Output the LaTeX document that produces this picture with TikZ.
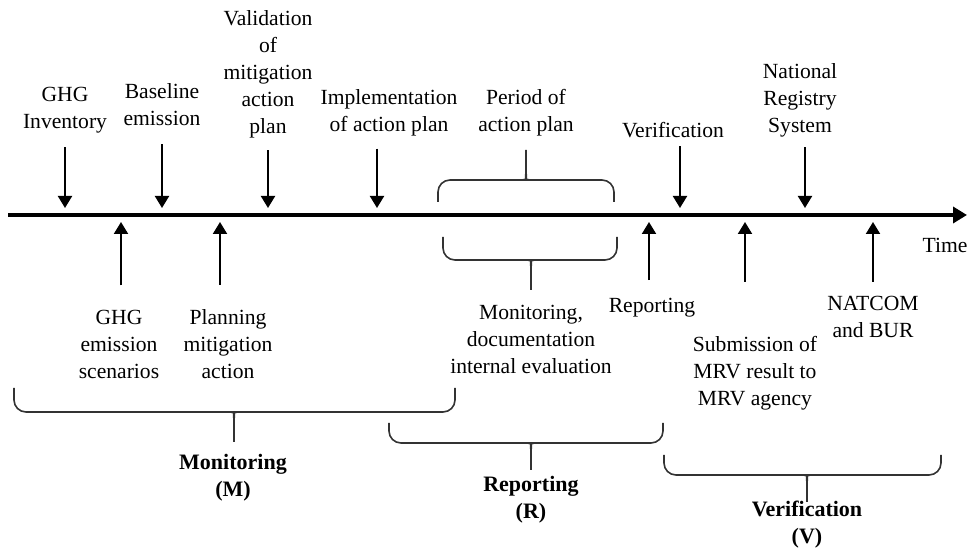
\documentclass[tikz,border=0pt]{standalone}
\usepackage{fontspec}
\setmainfont{Liberation Serif}
\usetikzlibrary{arrows.meta}

\begin{document}
\begin{tikzpicture}[x=0.5pt,y=-0.5pt,
  lbl/.style={align=center,inner sep=0pt,font=\fontsize{10.8}{13.5}\selectfont},
  phase/.style={align=center,inner sep=0pt,font=\fontsize{11}{13.5}\selectfont\bfseries},
  evt/.style={line width=1pt,-{Triangle[length=6pt,width=7pt]}},
  brc/.style={line width=0.8pt,draw=black!80}]
\useasboundingbox (0,0) rectangle (971,549);
%time axis
\coordinate (t0) at (8,215);
\coordinate (t1) at (967,215);
\draw[line width=2pt,-{Triangle[length=7pt,width=8pt]}] (t0) -- (t1);
\node[lbl] (time) at (945,245) {Time};
%points on the axis
\coordinate (a1) at (65,208);
\coordinate (a2) at (162,208);
\coordinate (a3) at (268,208);
\coordinate (a4) at (377,208);
\coordinate (a5) at (680,208);
\coordinate (a6) at (805,208);
\coordinate (b1) at (121,222);
\coordinate (b2) at (220,222);
\coordinate (b3) at (649,222);
\coordinate (b4) at (745,222);
\coordinate (b5) at (873,222);
%above the axis
\node[lbl] (inv) at (65,110) {GHG\\Inventory};
\node[lbl] (base) at (162,105) {Baseline\\emission};
\node[lbl] (valid) at (268,74) {Validation\\of\\mitigation\\action\\plan};
\node[lbl] (impl) at (389,113) {Implementation\\of action plan};
\node[lbl] (period) at (526,113) {Period of\\action plan};
\node[lbl] (verif) at (673,130) {Verification};
\node[lbl] (natreg) at (800,100) {National\\Registry\\System};
\draw[evt,shorten <=7pt] (a1 |- inv.south) -- (a1);
\draw[evt,shorten <=9pt] (a2 |- base.south) -- (a2);
\draw[evt,shorten <=6pt] (a3 |- valid.south) -- (a3);
\draw[evt,shorten <=6pt] (a4 |- impl.south) -- (a4);
\draw[evt,shorten <=4pt] (a5 |- verif.south) -- (a5);
\draw[evt,shorten <=5pt] (a6 |- natreg.south) -- (a6);
%below the axis
\node[lbl] (scen) at (119,344) {GHG\\emission\\scenarios};
\node[lbl] (plan) at (228,344) {Planning\\mitigation\\action};
\node[lbl] (mondoc) at (531,339) {Monitoring,\\documentation\\internal evaluation};
\node[lbl] (rep) at (652,308) {Reporting};
\node[lbl] (subm) at (755,373) {Submission of\\MRV result to\\MRV agency};
\node[lbl] (natcom) at (873,317) {NATCOM\\and BUR};
\draw[evt,shorten <=12pt] (b1 |- scen.north) -- (b1);
\draw[evt,shorten <=12pt] (b2 |- plan.north) -- (b2);
\draw[evt,shorten <=9pt] (b3 |- rep.north) -- (b3);
\draw[evt,shorten <=27pt] (b4 |- subm.north) -- (b4);
\draw[evt,shorten <=7pt] (b5 |- natcom.north) -- (b5);
%braces
\draw[brc] (438,202) [rounded corners=6] |- (518,180) [sharp corners] .. controls (524,180) and (526,177) .. (526,170) -- (526,150)
  (614,202) [rounded corners=6] |- (534,180) [sharp corners] .. controls (528,180) and (526,177) .. (526,170);
\draw[brc] (443,237) [rounded corners=6] |- (523,260) [sharp corners] .. controls (529,260) and (531,263) .. (531,270) -- (531,290)
  (617,237) [rounded corners=6] |- (539,260) [sharp corners] .. controls (533,260) and (531,263) .. (531,270);
\draw[brc] (14,388) [rounded corners=6] |- (226,412) [sharp corners] .. controls (232,412) and (234,415) .. (234,422) -- (234,442)
  (455,388) [rounded corners=6] |- (242,412) [sharp corners] .. controls (236,412) and (234,415) .. (234,422);
\draw[brc] (389,423) [rounded corners=6] |- (523,443) [sharp corners] .. controls (529,443) and (531,446) .. (531,453) -- (531,470)
  (663,423) [rounded corners=6] |- (539,443) [sharp corners] .. controls (533,443) and (531,446) .. (531,453);
\draw[brc] (664,455) [rounded corners=6] |- (799,475) [sharp corners] .. controls (805,475) and (807,478) .. (807,485) -- (807,502)
  (941,455) [rounded corners=6] |- (815,475) [sharp corners] .. controls (809,475) and (807,478) .. (807,485);
%phases
\node[phase] (mon) at (233,478) {Monitoring\\(M)};
\node[phase] (repp) at (531,500) {Reporting\\(R)};
\node[phase] (ver) at (807,525) {Verification\\(V)};
\end{tikzpicture}
\end{document}
